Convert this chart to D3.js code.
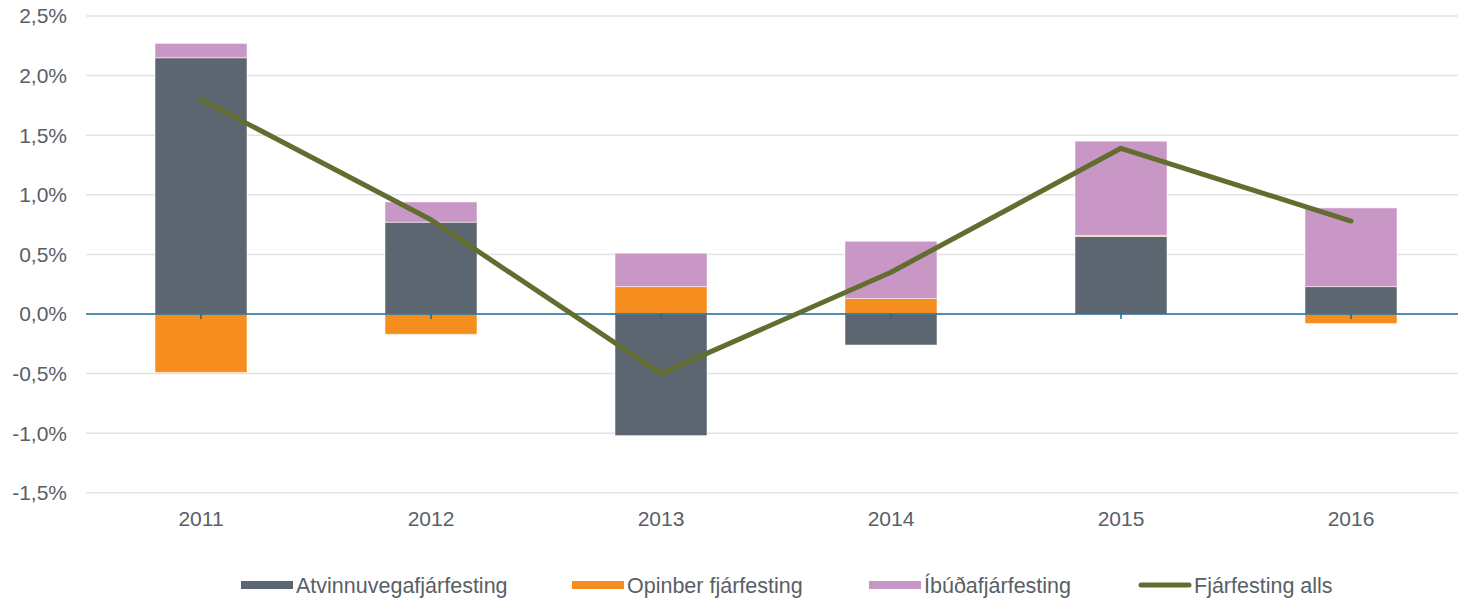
<!DOCTYPE html>
<html>
<head>
<meta charset="utf-8">
<script src="https://cdn.jsdelivr.net/npm/d3@7"></script>
<style>
  body { margin: 0; background: #fff; }
  svg { font-family: "Liberation Sans", Arial, sans-serif; }
</style>
</head>
<body>
<div id="chart"></div>
<script>
// data
const years = ["2011", "2012", "2013", "2014", "2015", "2016"];
const atvinnuvega = [2.15, 0.77, -1.02, -0.26, 0.65, 0.23];
const opinber = [-0.49, -0.17, 0.23, 0.13, 0.01, -0.08];
const ibuda = [0.12, 0.17, 0.28, 0.48, 0.79, 0.66];
const alls = [1.80, 0.79, -0.50, 0.35, 1.39, 0.78];
const yTicks = [-1.5, -1.0, -0.5, 0, 0.5, 1.0, 1.5, 2.0, 2.5];

const seriesNames = ["Atvinnuvegafjárfesting", "Opinber fjárfesting", "Íbúðafjárfesting"];
const colors = ["#5b6670", "#f58d1f", "#c897c5"];
const lineColor = "#626e30";
const textColor = "#595f66";

const W = 1458, H = 598;
const svg = d3.select("#chart").append("svg")
  .attr("width", W).attr("height", H);

const x = d3.scaleBand().domain(years).range([86, 1466]).paddingInner(0.6).paddingOuter(0.3);
const y = d3.scaleLinear().domain([-1.5, 2.5]).range([492.8, 16]);

// gridlines
svg.append("g").selectAll("line")
  .data(yTicks.filter(d => d !== 0))
  .join("line")
  .attr("x1", 86).attr("x2", W)
  .attr("y1", d => y(d)).attr("y2", d => y(d))
  .attr("stroke", "#e3e3e3").attr("stroke-width", 1.5);

// y labels
const fmt = d => d3.format(".1f")(d).replace(".", ",").replace("−", "-") + "%";
svg.append("g").selectAll("text")
  .data(yTicks)
  .join("text")
  .attr("x", 67).attr("y", d => y(d))
  .attr("dy", "0.35em")
  .attr("text-anchor", "end")
  .attr("font-size", 21)
  .attr("fill", textColor)
  .text(fmt);

// stacked bars
const table = years.map((yr, i) => ({
  year: yr, s0: atvinnuvega[i], s1: opinber[i], s2: ibuda[i]
}));
const stack = d3.stack().keys(["s0", "s1", "s2"]).offset(d3.stackOffsetDiverging);
const stacked = stack(table);

svg.append("g").selectAll("g")
  .data(stacked)
  .join("g")
  .attr("fill", (d, i) => colors[i])
  .selectAll("rect")
  .data(d => d)
  .join("rect")
  .attr("x", d => x(d.data.year))
  .attr("width", x.bandwidth())
  .attr("y", d => y(Math.max(d[0], d[1])))
  .attr("height", d => Math.abs(y(d[0]) - y(d[1])))
  .attr("stroke", "#ffffff").attr("stroke-opacity", 0.5).attr("stroke-width", 1);

// zero axis
const xAxisG = svg.append("g").attr("transform", `translate(0,${y(0)})`);
xAxisG.append("line")
  .attr("x1", 86).attr("x2", W)
  .attr("stroke", "#1b6b93").attr("stroke-width", 1.5);
xAxisG.selectAll("line.tick")
  .data(years)
  .join("line")
  .attr("class", "tick")
  .attr("x1", d => x(d) + x.bandwidth() / 2)
  .attr("x2", d => x(d) + x.bandwidth() / 2)
  .attr("y1", 0).attr("y2", 5)
  .attr("stroke", "#1b6b93").attr("stroke-width", 1.5);

// x labels
svg.append("g").selectAll("text")
  .data(years)
  .join("text")
  .attr("x", d => x(d) + x.bandwidth() / 2)
  .attr("y", 526)
  .attr("text-anchor", "middle")
  .attr("font-size", 21)
  .attr("fill", textColor)
  .text(d => d);

// total line
const line = d3.line()
  .x((d, i) => x(years[i]) + x.bandwidth() / 2)
  .y(d => y(d));
svg.append("path")
  .datum(alls)
  .attr("d", line)
  .attr("fill", "none")
  .attr("stroke", lineColor)
  .attr("stroke-width", 5)
  .attr("stroke-linecap", "round")
  .attr("stroke-linejoin", "round");

// legend
const legend = [
  { name: seriesNames[0], color: colors[0], x: 241, type: "rect" },
  { name: seriesNames[1], color: colors[1], x: 572, type: "rect" },
  { name: seriesNames[2], color: colors[2], x: 869, type: "rect" },
  { name: "Fjárfesting alls", color: lineColor, x: 1139, type: "line" }
];
const lg = svg.append("g").selectAll("g")
  .data(legend)
  .join("g")
  .attr("transform", d => `translate(${d.x},585)`);
lg.filter(d => d.type === "rect").append("rect")
  .attr("x", 0).attr("y", -4).attr("width", 52).attr("height", 8)
  .attr("fill", d => d.color);
lg.filter(d => d.type === "line").append("line")
  .attr("x1", 2).attr("x2", 50)
  .attr("stroke", d => d.color).attr("stroke-width", 5)
  .attr("stroke-linecap", "round");
lg.append("text")
  .attr("x", 55)
  .attr("dy", "0.35em")
  .attr("font-size", 21.5)
  .attr("fill", textColor)
  .text(d => d.name);
</script>
</body>
</html>
